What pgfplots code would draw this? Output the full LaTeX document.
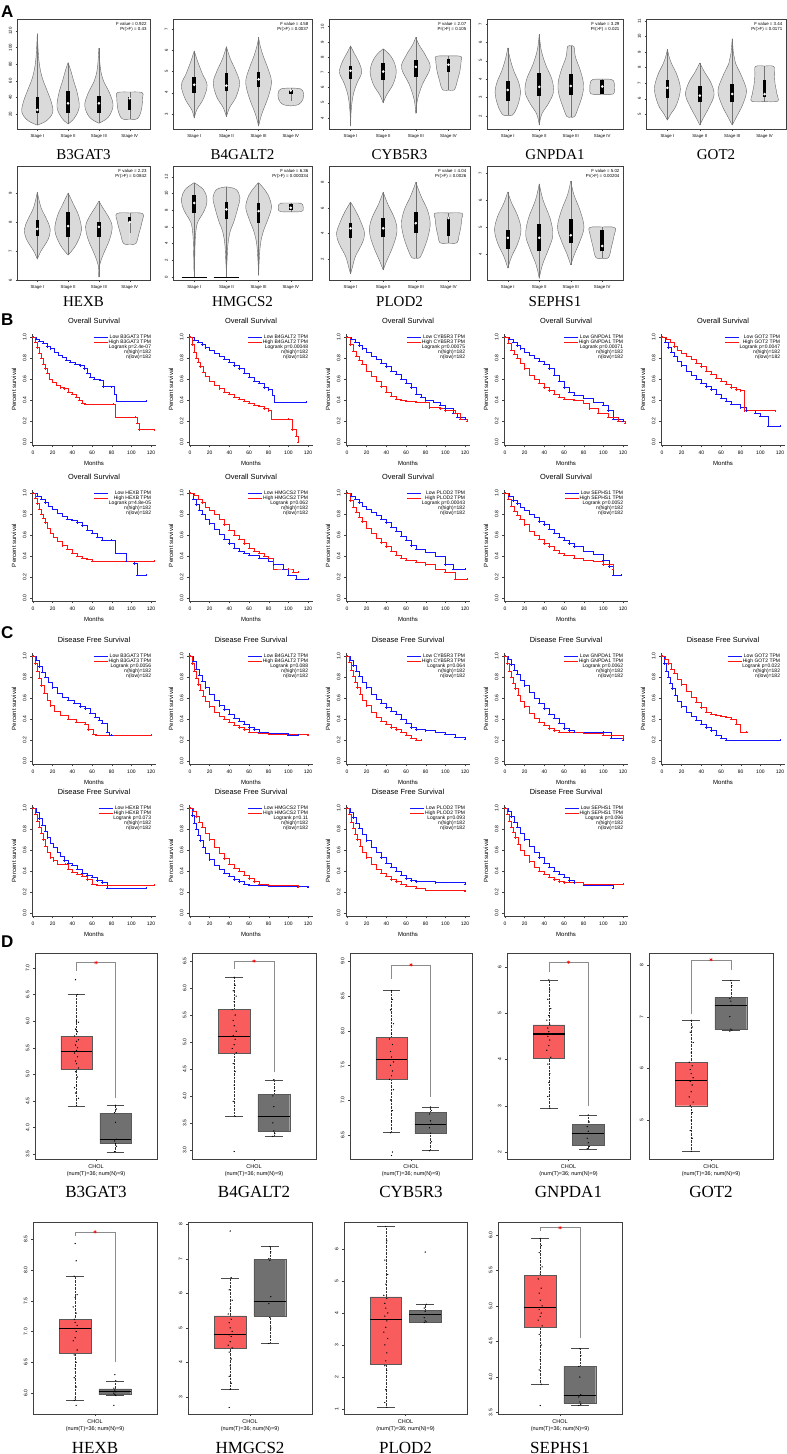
\documentclass[border=0pt]{standalone}
\usepackage{fontspec}
\setmainfont{Liberation Sans}
\newfontfamily\serif{Liberation Serif}
\usepackage{pgfplots}
\pgfplotsset{compat=1.18}

\definecolor{vgray}{RGB}{218,218,218}
\definecolor{kmblue}{RGB}{20,20,255}
\definecolor{kmred}{RGB}{255,20,20}
\definecolor{tred}{RGB}{248,92,92}
\definecolor{ngray}{RGB}{112,112,112}

\newcommand{\fs}[1]{\fontsize{#1}{#1}\selectfont}

\pgfplotsset{
  base/.style={scale only axis,
    /pgf/number format/assume math mode=true,
    tick label style={font=\fs{5}},
    yticklabel style={rotate=90, anchor=south},
    tick align=outside, major tick length=2pt,
    every tick/.style={black!75, line width=0.35pt},
    axis line style={black!75, line width=0.45pt},
    xtick pos=left, ytick pos=left},
  vio/.style={base, xmin=0.34, xmax=4.66, xtick={1,2,3,4},
    xticklabels={Stage I,Stage II,Stage III,Stage IV},
    tick label style={font=\fs{4.3}}, major tick length=1.5pt,
    xlabel style={font=\serif\fs{15}, at={(axis description cs:0.5,0)}, anchor=center}},
  vside/.style={smooth, tension=0.6, fill=vgray, draw=black!60, line width=0.4pt},
  km/.style={base, width=124pt, height=111.3pt,
    xmin=-1, xmax=125, ymin=-0.03, ymax=1.03,
    axis lines*=left, axis line style={-},
    xtick={0,20,40,60,80,100,120}, ytick={0,0.2,0.4,0.6,0.8,1},
    yticklabel style={/pgf/number format/.cd, fixed, fixed zerofill, precision=1},
    xlabel=Months, ylabel=Percent survival,
    label style={font=\fs{6}},
    title style={font=\fs{7.4}, yshift=0.5pt},
    legend style={draw=none, fill=none, at={(0.965,1.0)}, anchor=north east,
      font=\fontsize{5}{5}\selectfont, inner sep=0pt, row sep=-0.8pt,
      nodes={inner sep=0.4pt}},
    legend cell align=right,
    legend image code/.code={\draw[#1, line width=0.9pt] (0pt,0pt) -- (14pt,0pt);}},
  kmlow/.style={const plot, kmblue, line width=0.5pt, mark=+, mark size=1pt},
  kmhigh/.style={const plot, kmred, line width=0.5pt, mark=+, mark size=1pt},
  dbox/.style={base, xmin=0.375, xmax=1.625, xtick={1},
    xticklabels={{CHOL\\(num(T)=36; num(N)=9)}},
    xticklabel style={align=center, font=\fontsize{5.5}{6.8}\selectfont},
    xlabel style={font=\serif\fs{17}, at={(axis description cs:0.5,0)}, anchor=center}},
  dec/.style={yticklabel style={/pgf/number format/.cd, fixed, fixed zerofill, precision=1}},
  dots/.style={only marks, mark=*, mark size=0.38pt, black},
  brk/.style={black!45, line width=0.45pt},
  sig/.style={only marks, mark=asterisk, mark size=1.7pt, red, mark options={line width=0.5pt}},
  capst/.style={black!70, line width=0.4pt},
  wsk/.style={black!80, line width=0.4pt, densely dotted},
  bxst/.style={draw=black!65, line width=0.4pt},
  medst/.style={black, line width=1.1pt},
}

% violin: centre, rows "y halfwidth\\"
\newcommand{\vio}[2]{%
  \addplot[vside] table[x expr=#1+\thisrow{w}, y=y, row sep=\\]{y w\\#2};
  \addplot[vside] table[x expr=#1-\thisrow{w}, y=y, row sep=\\]{y w\\#2};}
% inner box: centre, low, high, q1, q3, median
\newcommand{\vbx}[6]{%
  \addplot[black!55, line width=0.35pt] coordinates {(#1,#2)(#1,#3)};
  \addplot[black, line width=3.6pt] coordinates {(#1,#4)(#1,#5)};
  \addplot[only marks, mark=*, mark size=1.1pt, white] coordinates {(#1,#6)};}
\newcommand{\ftxt}[2]{\node[anchor=north east, align=right, inner sep=0pt,
  font=\fontsize{4.4}{5.6}\selectfont] at (rel axis cs:0.975,0.975) {F value = #1\\Pr(>F) = #2};}

% KM: x, y, title, gene, p, low, high
\newcommand{\km}[7]{%
\begin{axis}[km, at={(#1pt,-#2pt)}, anchor=north west, title={#3}]
\addplot[kmlow] coordinates {#6};
\addlegendentry{Low #4 TPM}
\addplot[kmhigh] coordinates {#7};
\addlegendentry{High #4 TPM}
\addlegendimage{empty legend}\addlegendentry{Logrank p=#5}
\addlegendimage{empty legend}\addlegendentry{n(high)=182}
\addlegendimage{empty legend}\addlegendentry{n(low)=182}
\end{axis}}

% tumour (x=0.8) / normal (x=1.2) boxes: lw q1 med q3 uw
\newcommand{\tbx}[5]{%
  \addplot[wsk] coordinates {(0.8,#1)(0.8,#2)};
  \addplot[wsk] coordinates {(0.8,#4)(0.8,#5)};
  \addplot[capst] coordinates {(0.71,#1)(0.89,#1)};
  \addplot[capst] coordinates {(0.71,#5)(0.89,#5)};
  \addplot[bxst, fill=tred] coordinates {(0.64,#2)(0.96,#2)(0.96,#4)(0.64,#4)(0.64,#2)};
  \addplot[medst] coordinates {(0.64,#3)(0.96,#3)};}
\newcommand{\nbx}[5]{%
  \addplot[wsk] coordinates {(1.2,#1)(1.2,#2)};
  \addplot[wsk] coordinates {(1.2,#4)(1.2,#5)};
  \addplot[capst] coordinates {(1.11,#1)(1.29,#1)};
  \addplot[capst] coordinates {(1.11,#5)(1.29,#5)};
  \addplot[bxst, fill=ngray] coordinates {(1.04,#2)(1.36,#2)(1.36,#4)(1.04,#4)(1.04,#2)};
  \addplot[medst] coordinates {(1.04,#3)(1.36,#3)};}

\begin{document}
\begin{tikzpicture}
\useasboundingbox (0,0) rectangle (787pt,-1454pt);

\tikzset{plab/.style={anchor=north west, inner sep=0pt, font=\bfseries\fs{17}}}
\node[plab] at (1pt,-6pt) {A};
\node[plab] at (1pt,-314pt) {B};
\node[plab] at (1pt,-626pt) {C};
\node[plab] at (1pt,-936pt) {D};

%% ---------------- A : violins ----------------
\begin{axis}[vio, at={(17pt,-19pt)}, anchor=north west, width=133pt, height=110pt,
  ymin=2, ymax=134.5, ytick={20,40,60,80,100,120}, xlabel={B3GAT3}, xlabel style={yshift=-26pt}]
\vio{1}{6.7 0\\12 0.3\\22 0.5\\35 0.45\\50 0.3\\65 0.15\\85 0.05\\117 0\\}
\vio{2}{8 0\\15 0.2\\28 0.36\\45 0.3\\60 0.18\\72 0.09\\82 0\\}
\vio{3}{9 0\\16 0.3\\30 0.46\\45 0.35\\60 0.15\\75 0.05\\99 0\\}
\vio{4}{14 0\\14.5 0.25\\25 0.38\\40 0.42\\46 0.4\\46.5 0\\}
\vbx{1}{6.7}{117}{21}{40.5}{25}
\vbx{2}{8}{82}{21}{47.7}{33}
\vbx{3}{9}{99}{21}{41.7}{33}
\vbx{4}{14}{46.5}{25}{40}{39}
\ftxt{0.922}{0.43}
\end{axis}

\begin{axis}[vio, at={(173pt,-19pt)}, anchor=north west, width=139pt, height=110pt,
  ymin=2.29, ymax=7.47, ytick={3,4,5,6,7}, xlabel={B4GALT2}, xlabel style={yshift=-26pt}]
\vio{1}{2.8 0\\3.2 0.08\\3.7 0.28\\4.35 0.4\\4.9 0.25\\5.5 0.1\\5.97 0\\}
\vio{2}{2.87 0\\3.3 0.1\\3.8 0.3\\4.45 0.41\\5.0 0.3\\5.6 0.12\\6.17 0\\}
\vio{3}{2.43 0\\3.0 0.1\\3.8 0.3\\4.5 0.4\\5.1 0.3\\5.7 0.15\\6.2 0.05\\6.6 0\\}
\vio{4}{3.38 0\\3.45 0.25\\3.7 0.38\\4.0 0.39\\4.18 0.3\\4.22 0\\}
\vbx{1}{2.8}{5.97}{4.0}{4.75}{4.37}
\vbx{2}{2.87}{6.17}{4.1}{4.93}{4.33}
\vbx{3}{2.43}{6.6}{4.27}{4.98}{4.63}
\vbx{4}{3.6}{4.22}{3.95}{4.15}{4.1}
\ftxt{4.58}{0.0037}
\end{axis}

\begin{axis}[vio, at={(329pt,-19pt)}, anchor=north west, width=141pt, height=110pt,
  ymin=3.28, ymax=10.5, ytick={4,5,6,7,8,9,10}, xlabel={CYB5R3}, xlabel style={yshift=-26pt}]
\vio{1}{3.47 0\\4.5 0.02\\5.5 0.08\\6.3 0.2\\7.0 0.34\\7.7 0.25\\8.3 0.1\\8.74 0\\}
\vio{2}{4.99 0\\5.5 0.1\\6.2 0.3\\7.0 0.4\\7.7 0.33\\8.2 0.18\\8.54 0\\}
\vio{3}{4.3 0\\5.2 0.05\\6.2 0.2\\7.3 0.44\\8.1 0.3\\8.8 0.1\\9.3 0\\}
\vio{4}{5.84 0\\5.86 0.18\\6.5 0.28\\7.2 0.36\\7.8 0.39\\8.05 0.38\\8.08 0\\}
\vbx{1}{3.47}{8.74}{6.57}{7.42}{7.1}
\vbx{2}{4.99}{8.54}{6.5}{7.6}{7.05}
\vbx{3}{4.3}{9.3}{6.7}{7.8}{7.36}
\vbx{4}{5.84}{8.08}{7.03}{7.88}{7.5}
\ftxt{2.07}{0.105}
\end{axis}

\begin{axis}[vio, at={(487pt,-19pt)}, anchor=north west, width=136pt, height=110pt,
  ymin=1.29, ymax=7.27, ytick={2,3,4,5,6,7}, xlabel={GNPDA1}, xlabel style={yshift=-26pt}]
\vio{1}{2.03 0\\2.05 0.15\\2.5 0.3\\3.2 0.4\\3.8 0.35\\4.5 0.18\\5.2 0.06\\5.7 0\\}
\vio{2}{1.5 0\\2.1 0.08\\2.7 0.3\\3.3 0.45\\4.0 0.4\\4.8 0.2\\5.6 0.06\\6.45 0\\}
\vio{3}{1.95 0\\1.96 0.12\\2.5 0.25\\3.2 0.38\\3.8 0.4\\4.5 0.3\\5.2 0.15\\5.78 0.1\\5.8 0\\}
\vio{4}{3.18 0\\3.2 0.36\\3.5 0.39\\3.8 0.38\\3.98 0.3\\4.0 0\\}
\vbx{1}{2.03}{5.7}{2.82}{3.9}{3.41}
\vbx{2}{1.5}{6.45}{3.09}{4.34}{3.58}
\vbx{3}{1.95}{5.8}{3.14}{4.28}{3.63}
\vbx{4}{3.18}{4.0}{3.2}{3.96}{3.6}
\ftxt{3.29}{0.021}
\end{axis}

\begin{axis}[vio, at={(646pt,-19pt)}, anchor=north west, width=140pt, height=110pt,
  ymin=4.05, ymax=11.13, ytick={5,6,7,8,9,10,11}, xlabel={GOT2}, xlabel style={yshift=-26pt}]
\vio{1}{4.62 0\\5.0 0.1\\5.6 0.28\\6.6 0.4\\7.5 0.3\\8.3 0.12\\8.8 0.04\\9.18 0\\}
\vio{2}{4.3 0\\4.8 0.12\\5.5 0.3\\6.25 0.44\\7.0 0.35\\7.7 0.15\\8.3 0\\}
\vio{3}{4.3 0\\4.9 0.15\\5.6 0.32\\6.5 0.44\\7.4 0.3\\8.3 0.1\\8.9 0.04\\9.87 0\\}
\vio{4}{5.82 0\\5.84 0.4\\6.3 0.38\\7.0 0.32\\7.6 0.3\\8.08 0.28\\8.1 0\\}
\vbx{1}{4.62}{9.18}{6.07}{7.2}{6.7}
\vbx{2}{4.3}{8.3}{5.76}{6.84}{6.2}
\vbx{3}{4.3}{9.87}{5.76}{6.96}{6.3}
\vbx{4}{5.82}{8.1}{6.14}{7.2}{6.3}
\ftxt{3.44}{0.0171}
\end{axis}

\begin{axis}[vio, at={(17pt,-166pt)}, anchor=north west, width=133pt, height=114pt,
  ymin=6.0, ymax=9.93, ytick={6,7,8,9}, xlabel={HEXB}, xlabel style={yshift=-22pt}]
\vio{1}{6.72 0\\7.0 0.12\\7.4 0.35\\7.75 0.42\\8.1 0.3\\8.5 0.12\\9.03 0\\}
\vio{2}{6.86 0\\7.2 0.25\\7.7 0.43\\8.2 0.35\\8.6 0.18\\9.0 0\\}
\vio{3}{6.1 0\\6.5 0.02\\6.9 0.15\\7.4 0.35\\7.85 0.43\\8.2 0.3\\8.5 0.12\\8.72 0\\}
\vio{4}{7.24 0\\7.26 0.2\\7.6 0.3\\8.0 0.4\\8.29 0.42\\8.31 0\\}
\vbx{1}{6.72}{9.03}{7.52}{8.07}{7.76}
\vbx{2}{6.86}{9.0}{7.48}{8.34}{7.86}
\vbx{3}{6.1}{8.72}{7.48}{8.0}{7.83}
\vbx{4}{7.62}{8.31}{8.0}{8.17}{8.0}
\ftxt{2.23}{0.0842}
\end{axis}

\begin{axis}[vio, at={(173pt,-166pt)}, anchor=north west, width=139pt, height=114pt,
  ymin=-0.36, ymax=13.3, ytick={0,2,4,6,8,10,12}, xlabel={HMGCS2}, xlabel style={yshift=-22pt}]
\vio{1}{0.6 0\\1 0.01\\3 0.02\\5 0.04\\6.5 0.1\\7.5 0.25\\8.5 0.37\\9.5 0.39\\10.5 0.28\\11.3 0\\}
\vio{2}{0.6 0\\2 0.02\\4 0.05\\5.5 0.12\\6.5 0.22\\7.5 0.3\\8.5 0.37\\9.5 0.42\\10.5 0.3\\10.8 0\\}
\vio{3}{0.2 0\\2 0.02\\4 0.06\\5.5 0.15\\7 0.3\\8.4 0.4\\9.8 0.3\\10.8 0.12\\11.3 0\\}
\vio{4}{7.8 0\\7.82 0.3\\7.95 0.38\\8.3 0.39\\8.7 0.37\\8.85 0.3\\8.86 0\\}
\addplot[black, line width=0.8pt] coordinates {(0.61,0)(1.39,0)};
\addplot[black, line width=0.8pt] coordinates {(1.6,0)(2.4,0)};
\vbx{1}{0}{11.3}{7.66}{9.8}{8.86}
\vbx{2}{0}{10.8}{6.9}{9.0}{8.1}
\vbx{3}{0.2}{11.3}{6.5}{8.86}{7.9}
\vbx{4}{7.8}{8.86}{8.0}{8.75}{8.3}
\ftxt{6.36}{0.000334}
\end{axis}

\begin{axis}[vio, at={(329pt,-166pt)}, anchor=north west, width=141pt, height=114pt,
  ymin=0.36, ymax=9.27, ytick={2,4,6,8}, xlabel={PLOD2}, xlabel style={yshift=-22pt}]
\vio{1}{0.83 0\\1.3 0.05\\2.2 0.15\\3.2 0.35\\4.0 0.43\\5.0 0.3\\5.8 0.15\\6.45 0\\}
\vio{2}{1.14 0\\1.8 0.1\\2.8 0.27\\3.8 0.4\\4.5 0.42\\5.3 0.33\\6.3 0.14\\7.23 0\\}
\vio{3}{2.08 0\\2.1 0.12\\2.8 0.25\\3.8 0.38\\4.8 0.44\\5.8 0.36\\6.8 0.18\\7.5 0.07\\8.0 0\\}
\vio{4}{3.25 0\\3.27 0.26\\3.8 0.32\\4.5 0.38\\5.2 0.41\\5.58 0.42\\5.6 0\\}
\vbx{1}{0.83}{6.45}{3.64}{4.8}{4.4}
\vbx{2}{1.14}{7.23}{3.72}{5.2}{4.4}
\vbx{3}{2.08}{8.0}{4.03}{5.67}{4.8}
\vbx{4}{3.25}{5.6}{3.8}{5.3}{5.2}
\ftxt{4.04}{0.0026}
\end{axis}

\begin{axis}[vio, at={(487pt,-166pt)}, anchor=north west, width=136pt, height=114pt,
  ymin=3.04, ymax=7.26, ytick={3,4,5,6,7}, xlabel={SEPHS1}, xlabel style={yshift=-22pt}]
\vio{1}{3.48 0\\3.9 0.12\\4.4 0.32\\4.9 0.42\\5.4 0.32\\5.9 0.12\\6.3 0\\}
\vio{2}{3.1 0\\3.6 0.1\\4.2 0.3\\4.7 0.43\\5.3 0.35\\6.0 0.12\\6.6 0\\}
\vio{3}{3.6 0\\4.0 0.12\\4.5 0.3\\5.0 0.42\\5.6 0.3\\6.2 0.1\\6.7 0\\}
\vio{4}{3.85 0\\3.87 0.2\\4.3 0.3\\4.7 0.38\\4.98 0.4\\5.0 0\\}
\vbx{1}{3.48}{6.3}{4.2}{4.9}{4.6}
\vbx{2}{3.1}{6.6}{4.1}{5.1}{4.6}
\vbx{3}{3.6}{6.7}{4.4}{5.3}{4.7}
\vbx{4}{3.85}{5.0}{4.1}{4.9}{4.3}
\ftxt{5.02}{0.00204}
\end{axis}

%% ---------------- B : overall survival ----------------
\km{32}{334}{Overall Survival}{B3GAT3}{2.4e-07}
{(0,1)(3,0.98)(6,0.96)(10,0.94)(14,0.91)(18,0.89)(22,0.86)(26,0.83)(30,0.81)(34,0.78)(38,0.76)(43,0.74)(48,0.73)(52,0.70)(55,0.66)(58,0.62)(62,0.60)(68,0.59)(71,0.53)(80,0.53)(83,0.46)(85,0.39)(115,0.39)}
{(0,1)(2,0.95)(4,0.90)(6,0.85)(8,0.80)(10,0.74)(12,0.70)(14,0.66)(17,0.60)(20,0.57)(24,0.54)(28,0.52)(32,0.51)(36,0.48)(40,0.46)(44,0.43)(47,0.40)(50,0.37)(53,0.36)(82,0.36)(84,0.24)(104,0.24)(106,0.18)(108,0.12)(123,0.12)}
\km{189}{334}{Overall Survival}{B4GALT2}{0.00048}
{(0,1)(4,0.97)(8,0.95)(12,0.93)(16,0.90)(20,0.88)(25,0.85)(30,0.82)(35,0.79)(40,0.76)(45,0.73)(50,0.70)(55,0.66)(60,0.62)(65,0.58)(70,0.56)(75,0.52)(80,0.50)(84,0.45)(86,0.38)(118,0.38)}
{(0,1)(2,0.93)(4,0.86)(6,0.80)(8,0.76)(10,0.72)(13,0.67)(16,0.63)(20,0.58)(25,0.54)(30,0.51)(35,0.48)(40,0.46)(45,0.43)(50,0.41)(55,0.39)(60,0.37)(65,0.35)(70,0.34)(75,0.32)(80,0.30)(83,0.22)(100,0.22)(104,0.12)(108,0.06)(110,0.0)}
\km{346}{334}{Overall Survival}{CYB5R3}{0.00075}
{(0,1)(4,0.98)(8,0.95)(12,0.92)(16,0.89)(20,0.86)(25,0.82)(30,0.79)(35,0.75)(40,0.72)(45,0.68)(50,0.65)(55,0.60)(60,0.56)(65,0.52)(70,0.46)(75,0.43)(80,0.40)(88,0.38)(95,0.35)(100,0.32)(108,0.28)(112,0.24)(120,0.22)}
{(0,1)(3,0.93)(6,0.87)(9,0.82)(12,0.78)(15,0.74)(20,0.68)(25,0.63)(30,0.58)(35,0.53)(40,0.48)(45,0.44)(50,0.41)(55,0.40)(60,0.39)(70,0.38)(80,0.38)(84,0.33)(95,0.32)(100,0.30)(110,0.28)(115,0.22)(122,0.20)}
\km{504}{334}{Overall Survival}{GNPDA1}{0.00071}
{(0,1)(4,0.98)(8,0.95)(12,0.92)(16,0.89)(20,0.86)(25,0.83)(30,0.80)(35,0.77)(40,0.74)(45,0.70)(50,0.64)(55,0.58)(60,0.52)(65,0.48)(70,0.45)(80,0.42)(90,0.38)(100,0.35)(105,0.30)(110,0.22)(120,0.20)}
{(0,1)(3,0.94)(6,0.88)(9,0.84)(12,0.80)(16,0.75)(20,0.70)(25,0.64)(30,0.60)(35,0.56)(40,0.52)(45,0.49)(50,0.46)(55,0.43)(60,0.41)(70,0.40)(80,0.37)(86,0.32)(95,0.28)(105,0.24)(115,0.20)(122,0.18)}
\km{661}{334}{Overall Survival}{GOT2}{0.0047}
{(0,1)(3,0.95)(6,0.90)(9,0.86)(12,0.82)(16,0.77)(20,0.73)(25,0.68)(30,0.64)(35,0.60)(40,0.56)(45,0.53)(50,0.50)(55,0.46)(60,0.42)(65,0.39)(70,0.36)(80,0.33)(86,0.30)(95,0.28)(100,0.25)(108,0.15)(120,0.15)}
{(0,1)(4,0.98)(8,0.95)(12,0.91)(16,0.88)(20,0.85)(25,0.82)(30,0.79)(35,0.75)(40,0.72)(45,0.68)(50,0.65)(55,0.61)(60,0.58)(65,0.55)(70,0.52)(75,0.50)(80,0.49)(84,0.30)(115,0.30)}
\km{32}{490}{Overall Survival}{HEXB}{4.8e-05}
{(0,1)(4,0.97)(8,0.94)(12,0.91)(16,0.88)(20,0.85)(25,0.81)(30,0.78)(35,0.75)(40,0.74)(45,0.72)(50,0.69)(55,0.65)(60,0.62)(65,0.58)(70,0.55)(80,0.55)(84,0.43)(95,0.35)(103,0.33)(106,0.22)(115,0.22)}
{(0,1)(2,0.95)(4,0.90)(6,0.85)(8,0.80)(10,0.76)(12,0.72)(15,0.67)(18,0.62)(21,0.58)(25,0.54)(30,0.50)(35,0.47)(40,0.43)(45,0.40)(50,0.38)(55,0.37)(60,0.35)(123,0.35)}
\km{189}{490}{Overall Survival}{HMGCS2}{0.062}
{(0,1)(3,0.94)(6,0.89)(9,0.84)(12,0.80)(16,0.75)(20,0.71)(25,0.66)(30,0.61)(35,0.56)(40,0.52)(45,0.48)(50,0.45)(55,0.43)(60,0.41)(70,0.38)(80,0.35)(85,0.32)(95,0.28)(100,0.22)(108,0.18)(120,0.18)}
{(0,1)(4,0.98)(8,0.94)(12,0.91)(16,0.87)(20,0.84)(25,0.80)(30,0.75)(35,0.70)(40,0.65)(45,0.60)(50,0.56)(55,0.52)(60,0.48)(65,0.45)(70,0.43)(75,0.40)(80,0.38)(85,0.28)(100,0.28)(105,0.25)(110,0.25)}
\km{346}{490}{Overall Survival}{PLOD2}{0.00043}
{(0,1)(4,0.97)(8,0.94)(12,0.91)(16,0.88)(20,0.85)(25,0.82)(30,0.79)(35,0.75)(40,0.72)(45,0.68)(50,0.64)(55,0.59)(60,0.55)(65,0.50)(70,0.47)(80,0.44)(90,0.40)(100,0.32)(108,0.28)(120,0.28)}
{(0,1)(3,0.93)(6,0.87)(9,0.82)(12,0.77)(15,0.73)(20,0.67)(25,0.62)(30,0.57)(35,0.53)(40,0.49)(45,0.45)(50,0.41)(55,0.38)(60,0.36)(70,0.34)(80,0.32)(90,0.28)(100,0.25)(110,0.18)(122,0.18)}
\km{504}{490}{Overall Survival}{SEPHS1}{0.0052}
{(0,1)(4,0.97)(8,0.93)(12,0.90)(16,0.87)(20,0.84)(25,0.80)(30,0.77)(35,0.73)(40,0.70)(45,0.66)(50,0.62)(55,0.58)(60,0.55)(65,0.52)(70,0.49)(80,0.45)(90,0.42)(100,0.36)(106,0.30)(110,0.22)(118,0.22)}
{(0,1)(3,0.94)(6,0.88)(9,0.83)(12,0.79)(15,0.75)(20,0.70)(25,0.64)(30,0.60)(35,0.56)(40,0.52)(45,0.49)(50,0.46)(55,0.43)(60,0.41)(70,0.38)(80,0.36)(90,0.35)(100,0.32)(110,0.28)}

%% ---------------- C : disease free survival ----------------
\km{32}{653}{Disease Free Survival}{B3GAT3}{0.0056}
{(0,1)(3,0.96)(6,0.90)(9,0.85)(12,0.80)(16,0.75)(20,0.70)(25,0.65)(30,0.61)(36,0.58)(42,0.55)(48,0.52)(53,0.50)(58,0.46)(63,0.42)(67,0.39)(70,0.36)(75,0.28)(78,0.25)(80,0.25)}
{(0,1)(2,0.93)(4,0.86)(6,0.79)(8.5,0.72)(11,0.65)(15,0.58)(18,0.53)(22,0.48)(28,0.44)(36,0.40)(44,0.37)(53,0.35)(56,0.30)(61,0.26)(64,0.25)(120,0.25)}
\km{189}{653}{Disease Free Survival}{B4GALT2}{0.088}
{(0,1)(3,0.95)(6,0.88)(9,0.82)(12,0.76)(16,0.70)(20,0.64)(25,0.58)(30,0.53)(35,0.49)(40,0.45)(45,0.41)(50,0.38)(55,0.35)(60,0.32)(65,0.30)(70,0.28)(80,0.27)(100,0.25)(110,0.25)}
{(0,1)(2,0.93)(4,0.86)(6,0.79)(8,0.73)(10,0.68)(13,0.62)(16,0.57)(20,0.52)(25,0.47)(30,0.43)(35,0.40)(40,0.37)(45,0.34)(50,0.32)(55,0.30)(60,0.28)(70,0.27)(80,0.26)(120,0.25)}
\km{346}{653}{Disease Free Survival}{CYB5R3}{0.064}
{(0,1)(3,0.96)(6,0.91)(9,0.86)(12,0.81)(16,0.75)(20,0.70)(25,0.64)(30,0.59)(35,0.55)(40,0.51)(45,0.48)(50,0.45)(55,0.40)(60,0.36)(65,0.32)(70,0.30)(80,0.29)(90,0.28)(100,0.26)(110,0.23)(120,0.21)}
{(0,1)(2,0.94)(4,0.87)(6,0.81)(8,0.75)(10,0.70)(13,0.64)(16,0.58)(20,0.53)(25,0.47)(30,0.42)(35,0.38)(40,0.35)(45,0.32)(50,0.30)(55,0.28)(60,0.25)(65,0.22)(70,0.20)(75,0.20)}
\km{504}{653}{Disease Free Survival}{GNPDA1}{0.0062}
{(0,1)(3,0.97)(6,0.92)(9,0.87)(12,0.83)(16,0.77)(20,0.72)(25,0.66)(30,0.60)(35,0.55)(40,0.50)(45,0.45)(50,0.41)(55,0.36)(60,0.31)(65,0.29)(70,0.28)(100,0.28)(108,0.22)(120,0.20)}
{(0,1)(2,0.93)(4,0.86)(6,0.80)(8,0.74)(10,0.69)(13,0.63)(16,0.57)(20,0.52)(25,0.46)(30,0.41)(35,0.37)(40,0.34)(45,0.31)(50,0.29)(55,0.28)(80,0.27)(100,0.25)(120,0.22)}
\km{661}{653}{Disease Free Survival}{GOT2}{0.022}
{(0,1)(2,0.93)(4,0.86)(6,0.80)(8,0.74)(10,0.69)(13,0.63)(16,0.57)(20,0.52)(25,0.47)(30,0.43)(35,0.39)(40,0.35)(45,0.32)(50,0.29)(55,0.25)(60,0.22)(65,0.20)(120,0.20)}
{(0,1)(3,0.97)(6,0.93)(9,0.88)(12,0.84)(16,0.78)(20,0.73)(25,0.67)(30,0.61)(35,0.56)(40,0.51)(45,0.47)(50,0.45)(55,0.44)(60,0.43)(65,0.42)(70,0.40)(75,0.35)(80,0.28)(86,0.28)}
\km{32}{805}{Disease Free Survival}{HEXB}{0.073}
{(0,1)(3,0.96)(6,0.90)(9,0.84)(12,0.78)(15,0.72)(18,0.67)(21,0.63)(25,0.58)(28,0.54)(32,0.50)(36,0.48)(40,0.46)(45,0.42)(50,0.38)(55,0.36)(60,0.34)(65,0.31)(70,0.29)(75,0.24)(115,0.24)}
{(0,1)(2,0.94)(4,0.88)(6,0.82)(8,0.76)(10,0.70)(12,0.64)(15,0.58)(18,0.53)(21,0.50)(25,0.47)(33,0.47)(36,0.42)(40,0.39)(45,0.37)(50,0.35)(55,0.32)(60,0.28)(65,0.27)(123,0.27)}
\km{189}{805}{Disease Free Survival}{HMGCS2}{0.11}
{(0,1)(2,0.93)(4,0.86)(6,0.80)(8,0.74)(10,0.69)(13,0.63)(16,0.57)(20,0.51)(25,0.46)(30,0.42)(35,0.38)(40,0.35)(45,0.32)(50,0.30)(55,0.28)(60,0.27)(80,0.26)(120,0.25)}
{(0,1)(3,0.97)(6,0.92)(9,0.87)(12,0.82)(16,0.76)(20,0.70)(25,0.63)(30,0.57)(35,0.52)(40,0.47)(45,0.43)(50,0.40)(55,0.36)(60,0.33)(65,0.30)(70,0.28)(80,0.27)(110,0.25)}
\km{346}{805}{Disease Free Survival}{PLOD2}{0.093}
{(0,1)(3,0.96)(6,0.91)(9,0.86)(12,0.81)(16,0.75)(20,0.69)(25,0.63)(30,0.58)(35,0.53)(40,0.48)(45,0.44)(50,0.40)(55,0.36)(60,0.33)(65,0.31)(70,0.30)(90,0.29)(120,0.28)}
{(0,1)(2,0.94)(4,0.87)(6,0.81)(8,0.75)(10,0.70)(13,0.64)(16,0.58)(20,0.53)(25,0.47)(30,0.42)(35,0.38)(40,0.35)(45,0.32)(50,0.30)(55,0.28)(60,0.26)(70,0.24)(80,0.22)(120,0.21)}
\km{504}{805}{Disease Free Survival}{SEPHS1}{0.096}
{(0,1)(3,0.97)(6,0.92)(9,0.87)(12,0.82)(16,0.76)(20,0.70)(25,0.64)(30,0.58)(35,0.53)(40,0.48)(45,0.44)(50,0.40)(55,0.37)(60,0.34)(65,0.31)(70,0.29)(80,0.27)(110,0.24)}
{(0,1)(2,0.94)(4,0.88)(6,0.82)(8,0.77)(10,0.72)(13,0.66)(16,0.60)(20,0.55)(25,0.49)(30,0.44)(35,0.40)(40,0.37)(45,0.34)(50,0.32)(55,0.30)(60,0.29)(80,0.28)(120,0.28)}

%% ---------------- D : expression boxplots ----------------
\begin{axis}[dbox, dec, at={(35pt,-953pt)}, anchor=north west, width=122pt, height=206pt,
  ymin=3.41, ymax=7.28, ytick={3.5,4,4.5,5,5.5,6,6.5,7}, xlabel={B3GAT3}, xlabel style={yshift=-33pt}]
\tbx{4.4}{5.1}{5.43}{5.72}{6.5}
\nbx{3.53}{3.7}{3.78}{4.27}{4.42}
\addplot[dots] coordinates {(0.79,6.78)(0.81,6.5)(0.80,6.0)(0.82,5.98)(0.79,5.85)(0.81,5.8)(0.78,5.72)(0.82,5.65)(0.80,5.62)(0.79,5.55)(0.81,5.5)(0.80,5.45)(0.82,5.43)(0.78,5.4)(0.81,5.33)(0.79,5.25)(0.80,5.2)(0.82,5.12)(0.79,5.05)(0.81,4.95)(0.80,4.8)(0.78,4.75)(0.79,4.65)(0.82,4.55)(0.80,4.42)
 (1.2,4.42)(1.21,4.35)(1.19,4.28)(1.20,4.1)(1.21,3.78)(1.19,3.75)(1.2,3.7)(1.21,3.65)(1.19,3.55)};
\addplot[brk] coordinates {(0.8,6.95)(0.8,7.1)(1.2,7.1)(1.2,4.55)};
\addplot[sig] coordinates {(1,7.1)};
\end{axis}

\begin{axis}[dbox, dec, at={(192pt,-953pt)}, anchor=north west, width=124pt, height=206pt,
  ymin=2.83, ymax=6.65, ytick={3,3.5,4,4.5,5,5.5,6,6.5}, xlabel={B4GALT2}, xlabel style={yshift=-33pt}]
\tbx{3.62}{4.8}{5.1}{5.6}{6.2}
\nbx{3.25}{3.35}{3.62}{4.03}{4.3}
\addplot[dots] coordinates {(0.8,6.2)(0.81,6.05)(0.79,5.95)(0.82,5.85)(0.8,5.75)(0.78,5.6)(0.81,5.5)(0.79,5.4)(0.8,5.3)(0.82,5.2)(0.79,5.12)(0.81,5.05)(0.8,4.95)(0.78,4.88)(0.82,4.8)(0.79,4.6)(0.81,4.45)(0.8,4.2)(0.79,3.9)(0.81,3.62)(0.8,2.97)
 (1.2,4.3)(1.21,4.1)(1.19,4.0)(1.2,3.8)(1.21,3.62)(1.19,3.5)(1.2,3.35)(1.21,3.3)(1.19,3.25)};
\addplot[brk] coordinates {(0.8,6.35)(0.8,6.5)(1.2,6.5)(1.2,4.45)};
\addplot[sig] coordinates {(1,6.5)};
\end{axis}

\begin{axis}[dbox, dec, at={(350pt,-953pt)}, anchor=north west, width=122pt, height=206pt,
  ymin=6.15, ymax=9.12, ytick={6.5,7,7.5,8,8.5,9}, xlabel={CYB5R3}, xlabel style={yshift=-33pt}]
\tbx{6.53}{7.3}{7.58}{7.9}{8.58}
\nbx{6.27}{6.52}{6.65}{6.82}{6.9}
\addplot[dots] coordinates {(0.8,8.58)(0.81,8.45)(0.79,8.3)(0.82,8.1)(0.8,7.95)(0.78,7.88)(0.81,7.8)(0.79,7.7)(0.8,7.62)(0.82,7.55)(0.79,7.5)(0.81,7.42)(0.8,7.35)(0.78,7.3)(0.82,7.15)(0.79,7.0)(0.81,6.85)(0.8,6.7)(0.79,6.53)(0.81,6.25)(0.8,6.2)
 (1.2,6.9)(1.21,6.85)(1.19,6.8)(1.2,6.7)(1.21,6.65)(1.19,6.6)(1.2,6.52)(1.21,6.4)(1.19,6.27)};
\addplot[brk] coordinates {(0.8,8.75)(0.8,8.95)(1.2,8.95)(1.2,7.05)};
\addplot[sig] coordinates {(1,8.95)};
\end{axis}

\begin{axis}[dbox, at={(507pt,-953pt)}, anchor=north west, width=123pt, height=206pt,
  ymin=1.85, ymax=6.3, ytick={2,3,4,5,6}, xlabel={GNPDA1}, xlabel style={yshift=-33pt}]
\tbx{2.95}{4.02}{4.55}{4.75}{5.72}
\nbx{2.07}{2.15}{2.4}{2.6}{2.8}
\addplot[dots] coordinates {(0.8,5.72)(0.81,5.5)(0.79,5.3)(0.82,5.1)(0.8,4.95)(0.78,4.85)(0.81,4.75)(0.79,4.68)(0.8,4.6)(0.82,4.55)(0.79,4.5)(0.81,4.42)(0.8,4.3)(0.78,4.2)(0.82,4.05)(0.79,3.9)(0.81,3.7)(0.8,3.5)(0.79,3.2)(0.81,2.95)
 (1.2,2.8)(1.21,2.65)(1.19,2.55)(1.2,2.45)(1.21,2.4)(1.19,2.3)(1.2,2.2)(1.21,2.12)(1.19,2.07)};
\addplot[brk] coordinates {(0.8,5.9)(0.8,6.1)(1.2,6.1)(1.2,3.0)};
\addplot[sig] coordinates {(1,6.1)};
\end{axis}

\begin{axis}[dbox, at={(649pt,-953pt)}, anchor=north west, width=124pt, height=206pt,
  ymin=4.25, ymax=8.23, ytick={5,6,7,8}, xlabel={GOT2}, xlabel style={yshift=-33pt}]
\tbx{4.4}{5.28}{5.77}{6.12}{6.93}
\nbx{6.73}{6.75}{7.22}{7.37}{7.7}
\addplot[dots] coordinates {(0.8,6.93)(0.81,6.8)(0.79,6.7)(0.82,6.5)(0.8,6.3)(0.78,6.12)(0.81,6.05)(0.79,5.98)(0.8,5.9)(0.82,5.82)(0.79,5.75)(0.81,5.68)(0.8,5.55)(0.78,5.45)(0.82,5.35)(0.79,5.28)(0.81,5.15)(0.8,5.0)(0.79,4.8)(0.81,4.65)(0.8,4.4)
 (1.2,7.7)(1.21,7.6)(1.19,7.35)(1.2,7.3)(1.21,7.22)(1.19,7.0)(1.2,6.76)(1.21,6.74)(1.19,6.72)};
\addplot[brk] coordinates {(0.8,7.05)(0.8,8.1)(1.2,8.1)(1.2,7.9)};
\addplot[sig] coordinates {(1,8.1)};
\end{axis}

\begin{axis}[dbox, dec, at={(33pt,-1222pt)}, anchor=north west, width=124pt, height=192pt,
  ymin=5.66, ymax=8.78, ytick={6,6.5,7,7.5,8,8.5}, xlabel={HEXB}, xlabel style={yshift=-34pt}]
\tbx{5.88}{6.65}{7.05}{7.2}{7.9}
\nbx{5.97}{5.98}{6.02}{6.07}{6.2}
\addplot[dots] coordinates {(0.8,8.43)(0.81,8.15)(0.79,7.9)(0.82,7.6)(0.8,7.55)(0.78,7.4)(0.81,7.3)(0.79,7.2)(0.8,7.15)(0.82,7.1)(0.79,7.05)(0.81,7.0)(0.8,6.9)(0.78,6.85)(0.82,6.7)(0.79,6.62)(0.81,6.5)(0.8,6.4)(0.79,6.25)(0.81,6.1)(0.8,5.92)(0.79,5.88)(0.81,5.8)
 (1.2,6.3)(1.21,6.2)(1.19,6.08)(1.2,6.05)(1.21,6.02)(1.19,6.0)(1.2,5.98)(1.21,5.96)(1.19,5.8)};
\addplot[brk] coordinates {(0.8,8.55)(0.8,8.62)(1.2,8.62)(1.2,6.5)};
\addplot[sig] coordinates {(1,8.62)};
\end{axis}

\begin{axis}[dbox, at={(188pt,-1222pt)}, anchor=north west, width=124pt, height=192pt,
  ymin=2.51, ymax=8.06, ytick={3,4,5,6,7,8}, xlabel={HMGCS2}, xlabel style={yshift=-34pt}]
\tbx{3.22}{4.4}{4.8}{5.35}{6.45}
\nbx{4.55}{5.35}{5.75}{6.98}{7.35}
\addplot[dots] coordinates {(0.8,7.8)(0.81,6.45)(0.79,6.1)(0.82,5.8)(0.8,5.55)(0.78,5.4)(0.81,5.25)(0.79,5.15)(0.8,5.0)(0.82,4.9)(0.79,4.8)(0.81,4.75)(0.8,4.6)(0.78,4.5)(0.82,4.42)(0.79,4.3)(0.81,4.1)(0.8,3.9)(0.79,3.6)(0.81,3.4)(0.8,3.22)(0.79,2.7)
 (1.2,7.35)(1.21,7.2)(1.19,7.0)(1.2,6.95)(1.21,5.9)(1.19,5.7)(1.2,5.3)(1.21,5.0)(1.19,4.55)};
\end{axis}

\begin{axis}[dbox, at={(344pt,-1222pt)}, anchor=north west, width=123pt, height=192pt,
  ymin=0.84, ymax=6.84, ytick={1,2,3,4,5,6}, xlabel={PLOD2}, xlabel style={yshift=-34pt}]
\tbx{1.05}{2.4}{3.8}{4.5}{6.7}
\nbx{3.7}{3.72}{3.95}{4.07}{4.27}
\addplot[dots] coordinates {(0.8,6.7)(0.81,6.25)(0.79,5.65)(0.82,5.2)(0.8,4.9)(0.78,4.55)(0.81,4.45)(0.79,4.3)(0.8,4.15)(0.82,4.0)(0.79,3.9)(0.81,3.75)(0.8,3.55)(0.78,3.4)(0.82,3.2)(0.79,3.0)(0.81,2.75)(0.8,2.5)(0.79,2.35)(0.81,2.2)(0.8,1.6)(0.79,1.2)(0.81,1.05)
 (1.2,5.9)(1.21,4.27)(1.19,4.15)(1.2,4.05)(1.21,3.95)(1.19,3.85)(1.2,3.75)(1.21,3.72)(1.19,3.7)};
\end{axis}

\begin{axis}[dbox, dec, at={(498pt,-1222pt)}, anchor=north west, width=124pt, height=192pt,
  ymin=3.48, ymax=6.18, ytick={3.5,4,4.5,5,5.5,6}, xlabel={SEPHS1}, xlabel style={yshift=-34pt}]
\tbx{3.9}{4.7}{4.98}{5.43}{5.95}
\nbx{3.6}{3.63}{3.74}{4.15}{4.4}
\addplot[dots] coordinates {(0.8,5.95)(0.81,5.85)(0.79,5.75)(0.82,5.55)(0.8,5.45)(0.78,5.38)(0.81,5.25)(0.79,5.18)(0.8,5.08)(0.82,5.0)(0.79,4.95)(0.81,4.9)(0.8,4.85)(0.78,4.8)(0.82,4.72)(0.79,4.6)(0.81,4.45)(0.8,4.25)(0.79,4.1)(0.81,3.9)(0.8,3.6)
 (1.2,4.4)(1.21,4.3)(1.19,4.15)(1.2,4.0)(1.21,3.75)(1.19,3.72)(1.2,3.65)(1.21,3.62)(1.19,3.6)};
\addplot[brk] coordinates {(0.8,6.05)(0.8,6.1)(1.2,6.1)(1.2,4.55)};
\addplot[sig] coordinates {(1,6.1)};
\end{axis}

\end{tikzpicture}
\end{document}
